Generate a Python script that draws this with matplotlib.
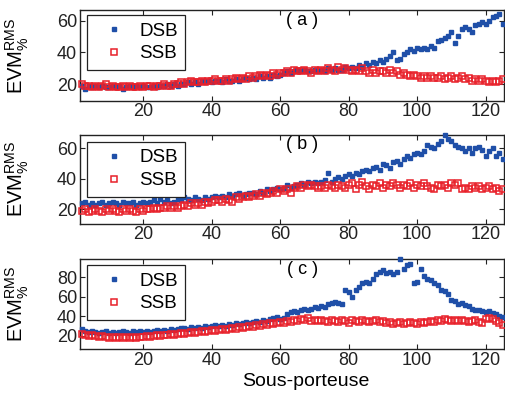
import numpy as np
import matplotlib
matplotlib.use("Agg")
import matplotlib.pyplot as plt

plt.rcParams["font.family"] = ["Liberation Sans", "DejaVu Sans"]
plt.rcParams["mathtext.fontset"] = "custom"
plt.rcParams["mathtext.rm"] = "Liberation Sans"
plt.rcParams["mathtext.it"] = "Liberation Sans"

# subcarrier index
sub = list(range(2, 126))

dsb_a = [19, 17, 19, 18, 19, 18, 19, 18, 18, 19,
         18, 19, 17, 18, 19, 18, 19, 18, 19, 18,
         18, 19, 18, 19, 19, 20, 19, 20, 19, 20,
         20, 21, 20, 21, 20, 22, 21, 22, 21, 22,
         22, 21, 23, 22, 22, 23, 22, 23, 24, 23,
         24, 23, 25, 24, 25, 24, 26, 25, 26, 27,
         28, 27, 28, 29, 28, 29, 28, 28, 29, 28,
         29, 28, 30, 29, 30, 29, 29, 31, 30, 31,
         30, 32, 31, 33, 32, 34, 33, 35, 34, 36,
         38, 40, 35, 36, 39, 40, 42, 41, 43, 42,
         43, 42, 44, 43, 47, 48, 49, 50, 53, 46,
         50, 55, 56, 55, 53, 57, 58, 59, 58, 60,
         62, 63, 64, 58]
ssb_a = [20, 19, 19, 18, 19, 18, 19, 20, 18, 19,
         18, 18, 19, 18, 19, 18, 18, 19, 18, 19,
         19, 18, 19, 19, 20, 19, 19, 20, 20, 21,
         20, 21, 22, 21, 21, 22, 21, 22, 22, 23,
         22, 22, 23, 22, 23, 24, 23, 24, 23, 25,
         24, 25, 26, 25, 26, 25, 27, 26, 27, 27,
         28, 27, 29, 28, 28, 29, 28, 27, 29, 28,
         29, 28, 30, 29, 28, 31, 29, 30, 29, 28,
         29, 28, 30, 28, 27, 29, 27, 28, 28, 27,
         29, 27, 28, 26, 27, 26, 25, 26, 25, 24,
         25, 24, 25, 24, 24, 25, 23, 24, 25, 23,
         24, 25, 23, 24, 22, 23, 22, 23, 22, 21,
         22, 21, 22, 23]

dsb_b = [24, 25, 23, 24, 23, 24, 25, 23, 24, 25,
         24, 23, 25, 24, 24, 25, 23, 24, 25, 24,
         25, 26, 24, 27, 25, 26, 24, 25, 27, 26,
         28, 27, 26, 28, 27, 26, 28, 27, 28, 29,
         28, 29, 28, 30, 29, 30, 31, 29, 30, 31,
         31, 30, 32, 31, 33, 32, 33, 34, 33, 34,
         36, 34, 35, 36, 37, 36, 38, 37, 38, 37,
         38, 39, 44, 38, 40, 41, 40, 42, 43, 42,
         44, 43, 45, 46, 45, 47, 48, 46, 50, 49,
         47, 51, 52, 50, 53, 55, 54, 56, 57, 56,
         58, 62, 61, 60, 63, 65, 69, 66, 65, 62,
         61, 60, 58, 60, 57, 60, 61, 59, 55, 58,
         60, 55, 57, 53]
ssb_b = [19, 20, 18, 19, 20, 19, 18, 20, 19, 20,
         19, 18, 20, 19, 20, 19, 18, 20, 19, 20,
         20, 21, 20, 21, 21, 22, 21, 22, 21, 22,
         23, 22, 24, 23, 24, 23, 25, 24, 25, 26,
         26, 25, 27, 26, 25, 28, 27, 28, 29, 28,
         29, 30, 29, 31, 30, 31, 32, 31, 33, 32,
         33, 31, 34, 35, 34, 36, 35, 36, 35, 34,
         35, 34, 36, 35, 34, 36, 35, 34, 36, 37,
         33, 36, 38, 35, 33, 36, 35, 37, 34, 36,
         35, 37, 36, 34, 36, 35, 37, 34, 36, 35,
         37, 35, 34, 33, 36, 35, 36, 34, 37, 36,
         37, 33, 34, 33, 35, 34, 35, 33, 34, 35,
         33, 34, 32, 33]

dsb_c = [27, 25, 24, 25, 24, 23, 24, 25, 23, 24,
         23, 24, 25, 24, 23, 25, 24, 25, 24, 25,
         24, 25, 26, 25, 26, 25, 27, 26, 27, 28,
         28, 27, 29, 28, 29, 28, 30, 29, 30, 31,
         30, 31, 30, 32, 31, 33, 32, 33, 34, 33,
         34, 35, 34, 36, 35, 37, 38, 39, 37, 38,
         42, 44, 45, 44, 46, 47, 46, 48, 50, 49,
         51, 50, 53, 54, 55, 54, 53, 67, 65, 60,
         67, 70, 74, 75, 74, 78, 84, 86, 88, 85,
         86, 84, 86, 99, 89, 93, 94, 74, 75, 89,
         81, 78, 77, 74, 72, 67, 66, 63, 57, 56,
         53, 54, 52, 51, 48, 46, 46, 45, 44, 45,
         43, 42, 40, 39]
ssb_c = [22, 21, 20, 21, 20, 19, 20, 19, 18, 19,
         18, 19, 18, 19, 18, 19, 18, 19, 19, 20,
         19, 20, 21, 20, 21, 21, 22, 21, 22, 23,
         22, 23, 24, 23, 24, 25, 24, 25, 26, 25,
         26, 27, 26, 27, 28, 27, 29, 28, 29, 30,
         29, 31, 30, 32, 31, 33, 32, 33, 34, 33,
         35, 34, 36, 35, 37, 36, 38, 35, 36, 35,
         36, 35, 34, 36, 35, 34, 36, 35, 33, 36,
         35, 34, 36, 35, 34, 35, 36, 34, 35, 33,
         34, 32, 33, 34, 32, 33, 34, 33, 32, 34,
         33, 34, 35, 34, 36, 35, 37, 36, 35, 36,
         35, 36, 35, 34, 35, 36, 34, 33, 37, 38,
         37, 35, 33, 31]

panels = [
    ("( a )", dsb_a, ssb_a, (9.5, 66.7), [20, 40, 60]),
    ("( b )", dsb_b, ssb_b, (10.5, 69.0), [20, 40, 60]),
    ("( c )", dsb_c, ssb_c, (6.3, 99.0), [20, 40, 60, 80]),
]
xticks = [20, 40, 60, 80, 100, 120]

BLUE = "#1F4FA8"
RED = "#E8202A"

fig = plt.figure(figsize=(5.05, 3.94), dpi=100)
# axes boxes in pixels (top, bottom) measured on the reference
boxes = [(10, 100.7), (134.7, 223.7), (259, 349)]
leg_top = [15, 141.7, 265]
W, H = 505, 394
L, R = 80, 503.5

for (tag, dsb, ssb, ylim, yt), (top, bot), lt in zip(panels, boxes, leg_top):
    ax = fig.add_axes([L / W, 1 - bot / H, (R - L) / W, (bot - top) / H])
    ax.plot(sub, dsb, ls="none", marker="s", ms=3.2, color=BLUE,
            mec=BLUE, label="DSB", clip_on=False, zorder=3)
    ax.plot(sub, ssb, ls="none", marker="s", ms=3.7, mfc="none", mec=RED,
            mew=1.1, label="SSB", clip_on=False, zorder=3)
    ax.set_xlim(1.5, 125.2)
    ax.set_ylim(*ylim)
    ax.set_xticks(xticks)
    ax.set_yticks(yt)
    ax.tick_params(direction="in", length=3.5, width=0.8, top=True, right=True,
                   labelsize=13, pad=2, colors="#222222")
    for s in ax.spines.values():
        s.set_linewidth(1.0)
        s.set_color("#222222")
    ax.text(0.525, 0.885, tag, transform=ax.transAxes, ha="center", va="center",
            fontsize=13)
    ax.set_ylabel(r"EVM$_{\%}^{\mathrm{RMS}}$", fontsize=14.5, labelpad=2)
    ax.yaxis.set_label_coords(-0.115, 0.5)
    anchor_y = 1 - (lt - top) / (bot - top)
    leg = ax.legend(loc="upper left", bbox_to_anchor=(0.016, anchor_y),
                    borderaxespad=0, fontsize=13.5, frameon=True, fancybox=False,
                    edgecolor="#222222", framealpha=1, handlelength=2.1,
                    handletextpad=0.3, borderpad=0.4, labelspacing=0.3)
    leg.get_frame().set_linewidth(0.9)

fig.text(306 / W, 1 - 382 / H, "Sous-porteuse", ha="center", va="center",
         fontsize=14)

fig.savefig("out.png", dpi=100)
